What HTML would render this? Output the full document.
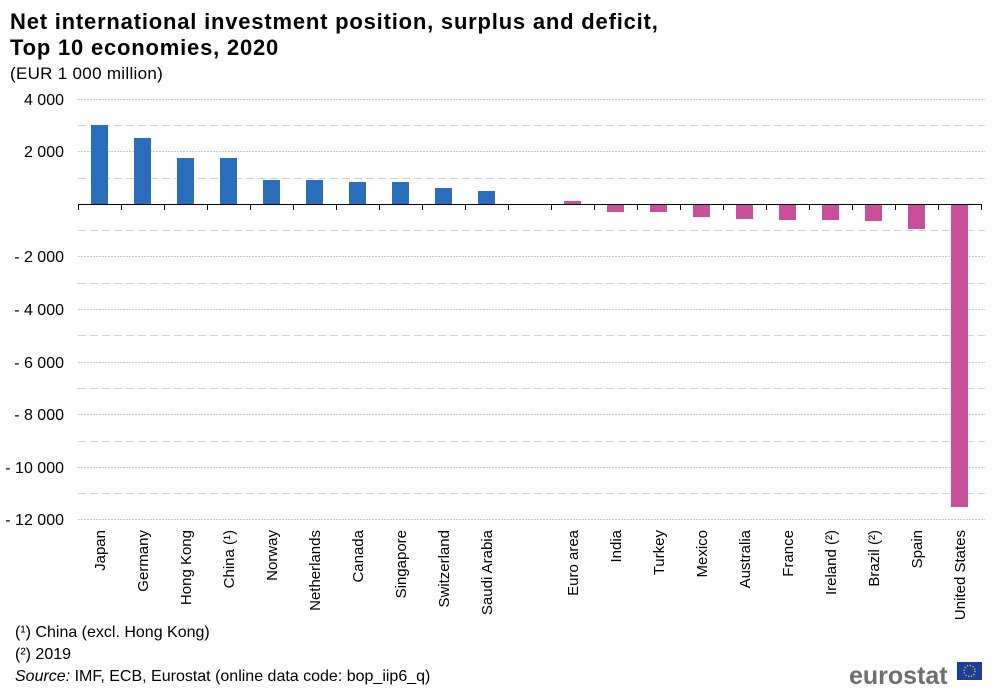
<!DOCTYPE html>
<html><head><meta charset="utf-8"><style>
body{margin:0;background:#fff;width:1000px;height:690px;overflow:hidden;font-family:"Liberation Sans",Arial,sans-serif}
</style></head><body>
<svg width="1000" height="690" xmlns="http://www.w3.org/2000/svg" font-family="Liberation Sans, Arial, sans-serif">
<text x="10" y="29" font-size="22" font-weight="bold" letter-spacing="0.8" fill="#000">Net international investment position, surplus and deficit,</text>
<text x="10" y="55" font-size="22" font-weight="bold" letter-spacing="0.8" fill="#000">Top 10 economies, 2020</text>
<text x="10" y="79" font-size="17" letter-spacing="0.3" fill="#000">(EUR 1 000 million)</text>
<g stroke="#c8c8c8" stroke-width="1" stroke-dasharray="2,1">
<line x1="78" x2="985" y1="99.5" y2="99.5"/><line x1="78" x2="985" y1="151.5" y2="151.5"/>
<line x1="78" x2="985" y1="256.5" y2="256.5"/><line x1="78" x2="985" y1="309.5" y2="309.5"/>
<line x1="78" x2="985" y1="362.5" y2="362.5"/><line x1="78" x2="985" y1="414.5" y2="414.5"/>
<line x1="78" x2="985" y1="467.5" y2="467.5"/><line x1="78" x2="985" y1="519.5" y2="519.5"/>
</g>
<g stroke="#d0d0d0" stroke-width="1" stroke-dasharray="8,4">
<line x1="78" x2="985" y1="125.5" y2="125.5"/><line x1="78" x2="985" y1="178.5" y2="178.5"/>
<line x1="78" x2="985" y1="230.5" y2="230.5"/><line x1="78" x2="985" y1="283.5" y2="283.5"/>
<line x1="78" x2="985" y1="335.5" y2="335.5"/><line x1="78" x2="985" y1="388.5" y2="388.5"/>
<line x1="78" x2="985" y1="441.5" y2="441.5"/><line x1="78" x2="985" y1="493.5" y2="493.5"/>
</g>
<g font-size="16" fill="#000" text-anchor="end">
<text x="64" y="105">4 000</text><text x="64" y="157">2 000</text>
<text x="64" y="262">- 2 000</text><text x="64" y="315">- 4 000</text>
<text x="64" y="368">- 6 000</text><text x="64" y="420">- 8 000</text>
<text x="64" y="473">- 10 000</text><text x="64" y="525">- 12 000</text>
</g>
<g fill="#2a6ebb">
<rect x="91" y="125" width="17" height="79"/>
<rect x="134" y="138" width="17" height="66"/>
<rect x="177" y="158" width="17" height="46"/>
<rect x="220" y="158" width="17" height="46"/>
<rect x="263" y="180" width="17" height="24"/>
<rect x="306" y="180" width="17" height="24"/>
<rect x="349" y="182" width="17" height="22"/>
<rect x="392" y="182" width="17" height="22"/>
<rect x="435" y="188" width="17" height="16"/>
<rect x="478" y="191" width="17" height="13"/>
</g>
<g fill="#c94f9a">
<rect x="564" y="201" width="17" height="3"/>
<rect x="607" y="204" width="17" height="8"/>
<rect x="650" y="204" width="17" height="8"/>
<rect x="693" y="204" width="17" height="13"/>
<rect x="736" y="204" width="17" height="15"/>
<rect x="779" y="204" width="17" height="16"/>
<rect x="822" y="204" width="17" height="16"/>
<rect x="865" y="204" width="17" height="17"/>
<rect x="908" y="204" width="17" height="25"/>
<rect x="951" y="204" width="17" height="303"/>
</g>
<line x1="78" x2="981" y1="204.5" y2="204.5" stroke="#000" stroke-width="1"/>
<g stroke="#000" stroke-width="1">
<line x1="78.5" x2="78.5" y1="204" y2="210"/><line x1="121.5" x2="121.5" y1="204" y2="210"/>
<line x1="164.5" x2="164.5" y1="204" y2="210"/><line x1="207.5" x2="207.5" y1="204" y2="210"/>
<line x1="250.5" x2="250.5" y1="204" y2="210"/><line x1="293.5" x2="293.5" y1="204" y2="210"/>
<line x1="336.5" x2="336.5" y1="204" y2="210"/><line x1="379.5" x2="379.5" y1="204" y2="210"/>
<line x1="422.5" x2="422.5" y1="204" y2="210"/><line x1="465.5" x2="465.5" y1="204" y2="210"/>
<line x1="508.5" x2="508.5" y1="204" y2="210"/><line x1="551.5" x2="551.5" y1="204" y2="210"/>
<line x1="594.5" x2="594.5" y1="204" y2="210"/><line x1="637.5" x2="637.5" y1="204" y2="210"/>
<line x1="680.5" x2="680.5" y1="204" y2="210"/><line x1="723.5" x2="723.5" y1="204" y2="210"/>
<line x1="766.5" x2="766.5" y1="204" y2="210"/><line x1="809.5" x2="809.5" y1="204" y2="210"/>
<line x1="852.5" x2="852.5" y1="204" y2="210"/><line x1="895.5" x2="895.5" y1="204" y2="210"/>
<line x1="938.5" x2="938.5" y1="204" y2="210"/><line x1="981.5" x2="981.5" y1="204" y2="210"/>
</g>
<g font-size="15" fill="#000" text-anchor="end">
<text transform="translate(105,530) rotate(-90)">Japan</text>
<text transform="translate(148,530) rotate(-90)">Germany</text>
<text transform="translate(191,530) rotate(-90)">Hong Kong</text>
<text transform="translate(234,530) rotate(-90)">China (¹)</text>
<text transform="translate(277,530) rotate(-90)">Norway</text>
<text transform="translate(320,530) rotate(-90)">Netherlands</text>
<text transform="translate(363,530) rotate(-90)">Canada</text>
<text transform="translate(406,530) rotate(-90)">Singapore</text>
<text transform="translate(449,530) rotate(-90)">Switzerland</text>
<text transform="translate(492,530) rotate(-90)">Saudi Arabia</text>
<text transform="translate(578,530) rotate(-90)">Euro area</text>
<text transform="translate(621,530) rotate(-90)">India</text>
<text transform="translate(664,530) rotate(-90)">Turkey</text>
<text transform="translate(707,530) rotate(-90)">Mexico</text>
<text transform="translate(750,530) rotate(-90)">Australia</text>
<text transform="translate(793,530) rotate(-90)">France</text>
<text transform="translate(836,530) rotate(-90)">Ireland (²)</text>
<text transform="translate(879,530) rotate(-90)">Brazil (²)</text>
<text transform="translate(922,530) rotate(-90)">Spain</text>
<text transform="translate(965,530) rotate(-90)">United States</text>
</g>
<g font-size="16" fill="#000">
<text x="15" y="637">(¹) China (excl. Hong Kong)</text>
<text x="15" y="659">(²) 2019</text>
<text x="15" y="681"><tspan font-style="italic">Source:</tspan> IMF, ECB, Eurostat (online data code: bop_iip6_q)</text>
</g>
<text x="849" y="684" font-size="25" font-weight="bold" fill="#6e6e6e">eurostat</text>
<rect x="957" y="662" width="25" height="18" fill="#1a3e9c"/>
<circle cx="969.5" cy="671" r="5.5" fill="none" stroke="#f5d000" stroke-width="1.4" stroke-dasharray="1.2,1.7"/>
</svg>
</body></html>
